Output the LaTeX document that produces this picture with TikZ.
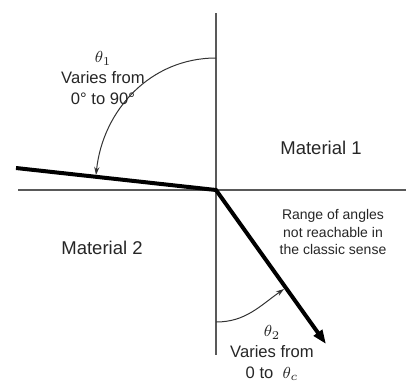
\documentclass[tikz,border=0pt]{standalone}
\usepackage{fontspec}
\setmainfont{Liberation Sans}
\usepackage{tikz}
\usetikzlibrary{arrows.meta}

\begin{document}
\begin{tikzpicture}[x=0.5pt, y=0.5pt,
    boundary/.style={draw=black!65, line width=0.75pt},
    ray/.style={line width=2pt, black, line join=miter},
    anglearc/.style={line width=0.5pt, black!80, -{Stealth[length=4pt,width=2.6pt]}},
    txt/.style={font=\fontsize{8.3}{10.3}\selectfont, text=black!85, align=center, inner sep=0pt}]
  \useasboundingbox (0,0) rectangle (406,388);
  \clip (0,0) rectangle (406,388);

  % interface and normal
  \coordinate (O) at (216,198);
  \coordinate (top) at (216,375);
  \coordinate (bottom) at (216,33);
  \coordinate (left) at (18,198);
  \coordinate (right) at (406,198);
  \draw[boundary] (top) -- (bottom);
  \draw[boundary] (left) -- (right);

  % incident and refracted ray
  \coordinate (src) at (16,220);
  \coordinate (dst) at (326,44);
  \draw[ray, -{Triangle[length=7pt,width=5pt]}] (src) -- (O) -- (dst);

  % angles
  \coordinate (a1s) at (216,330);
  \coordinate (a1e) at (96,213);
  \draw[anglearc] (a1s) to[out=180,in=84] (a1e);
  \coordinate (a2s) at (216,66);
  \coordinate (a2e) at (284,99);
  \draw[anglearc] (a2s) to[out=0,in=215] (a2e);

  % labels
  \node[txt] (theta1) at (103,310) {$\theta_1$\\Varies from\\0° to 90°};
  \node[txt, font=\fontsize{9.25}{11}\selectfont] (mat1) at (321,240) {Material 1};
  \node[txt, font=\fontsize{9.25}{11}\selectfont] (mat2) at (102,140) {Material 2};
  \node[txt, font=\fontsize{7}{8.75}\selectfont] (range) at (333,156) {Range of angles\\not reachable in\\the classic sense};
  \node[txt] (theta2) at (272,35) {$\theta_2$\\Varies from\\0 to \ $\theta_c$};
\end{tikzpicture}
\end{document}
